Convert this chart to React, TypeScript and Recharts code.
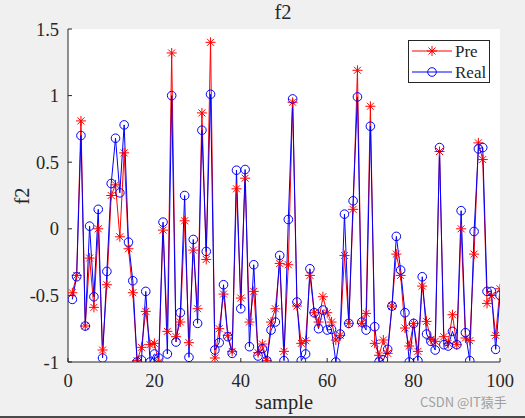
import { LineChart, Line, XAxis, YAxis, CartesianGrid, Legend } from 'recharts';

const SAMPLES = Array.from({ length: 100 }, (_, i) => i + 1);

const PRE = [
  -0.48, -0.35, 0.81, -0.73, -0.22, -0.59, 0.0, -0.91, -0.42, 0.25,
  0.33, -0.06, 0.57, -0.15, -0.48, -0.99, -0.89, -0.62, -0.87, -0.86,
  -1.0, -0.01, -0.77, 1.32, -0.81, -0.7, 0.06, -0.855, -0.16, -0.6,
  0.87, -0.23, 1.4, -0.97, -0.75, -0.49, -0.8, -0.92, 0.3, -0.52,
  0.38, -0.7, -0.47, -0.93, -0.865, -0.99, -0.7, -0.6, -0.26, -0.92,
  -0.27, 0.95, -0.58, -0.86, -0.84, -0.35, -0.63, -0.7, -0.51, -0.63,
  -0.7, -0.835, -0.8, -0.2, -0.71, 0.146, 1.19, -0.71, -0.635, 0.92,
  -0.86, -0.95, -0.835, -0.935, -0.58, -0.19, -0.35, -0.745, -0.88, -0.71,
  -0.92, -0.43, -0.695, -0.83, -0.845, 0.58, -0.81, -0.86, -0.645, -0.87,
  0.0, -0.82, -0.84, -0.19, 0.645, 0.52, -0.56, -0.5, -0.8, -0.45,
];

const REAL = [
  -0.53, -0.36, 0.7, -0.73, 0.02, -0.51, 0.146, -0.97, -0.32, 0.34,
  0.68, 0.27, 0.78, -0.1, -0.39, -1.0, -0.985, -0.47, -1.0, -0.94,
  -0.97, 0.05, -0.94, 1.0, -0.85, -0.63, 0.25, -0.965, -0.08, -0.71,
  0.74, -0.17, 1.01, -0.91, -0.855, -0.42, -0.81, -0.935, 0.44, -0.6,
  0.445, -0.885, -0.27, -0.955, -0.9, -0.99, -0.76, -0.7, -0.2, -0.99,
  0.07, 0.975, -0.55, -0.99, -0.94, -0.3, -0.63, -0.75, -0.61, -0.76,
  -0.755, -1.0, -0.79, 0.11, -0.71, 0.21, 0.99, -0.7, -0.76, 0.77,
  -0.735, -1.0, -0.985, -0.905, -0.58, -0.057, -0.31, -0.63, -1.0, -0.71,
  -0.99, -0.36, -0.79, -0.845, -0.91, 0.61, -0.87, -0.88, -0.77, -0.87,
  0.136, -0.78, -0.99, -0.02, 0.6, 0.61, -0.47, -0.47, -0.905, -0.5,
];

const X_TICKS = [0, 20, 40, 60, 80, 100];
const Y_TICKS = [-1, -0.5, 0, 0.5, 1, 1.5];

const data = SAMPLES.map((x, i) => ({ x, pre: PRE[i], real: REAL[i] }));

const INK = '#262626';
const SERIF = '"Liberation Serif", "Times New Roman", serif';
const tickStyle = { fill: INK, fontSize: 18.5, fontFamily: SERIF };

function Star({ cx, cy }: { cx: number; cy: number }) {
  const r = 5;
  const d = 3.5;
  return (
    <g stroke="#ff0000" strokeWidth={1}>
      <line x1={cx - r} y1={cy} x2={cx + r} y2={cy} />
      <line x1={cx} y1={cy - r} x2={cx} y2={cy + r} />
      <line x1={cx - d} y1={cy - d} x2={cx + d} y2={cy + d} />
      <line x1={cx - d} y1={cy + d} x2={cx + d} y2={cy - d} />
    </g>
  );
}

const starDot = (props: any) => <Star key={`s-${props.index}`} cx={props.cx} cy={props.cy} />;
const circleDot = (props: any) => (
  <circle key={`c-${props.index}`} cx={props.cx} cy={props.cy} r={4.3} fill="none" stroke="#0000ff" strokeWidth={1} />
);

const LegendBox = () => (
  <svg width={82} height={43} style={{ display: 'block' }}>
    <rect x={0.5} y={0.5} width={81} height={42} fill="#fff" stroke={INK} />
    <line x1={4} y1={11} x2={44} y2={11} stroke="#ff0000" />
    <Star cx={24} cy={11} />
    <text x={47} y={17} fontSize={17} fontFamily={SERIF} fill={INK}>Pre</text>
    <line x1={4} y1={32} x2={44} y2={32} stroke="#0000ff" />
    <circle cx={24} cy={32} r={4.3} fill="none" stroke="#0000ff" />
    <text x={47} y={38} fontSize={17} fontFamily={SERIF} fill={INK}>Real</text>
  </svg>
);

export default function App() {
  return (
    <div style={{ position: 'absolute', left: 0, top: 0, width: 525, height: 418, background: '#f0f0f0', overflow: 'hidden' }}>
      <LineChart width={525} height={418} data={data} margin={{ top: 29, right: 25, bottom: 0, left: 0 }}>
        <CartesianGrid horizontal={false} vertical={false} fill="#ffffff" stroke="none" />
        <XAxis
          dataKey="x"
          type="number"
          domain={[0, 100]}
          ticks={X_TICKS}
          height={56}
          tickSize={-4}
          tickMargin={16}
          tick={tickStyle}
          stroke={INK}
          allowDataOverflow
        />
        <XAxis
          xAxisId="top"
          orientation="top"
          dataKey="x"
          type="number"
          domain={[0, 100]}
          ticks={X_TICKS}
          height={0}
          tickSize={-4}
          tickFormatter={() => ''}
          stroke={INK}
          allowDataOverflow
        />
        <YAxis
          type="number"
          domain={[-1, 1.5]}
          ticks={Y_TICKS}
          width={68}
          tickSize={-4}
          tickMargin={13}
          tick={tickStyle}
          stroke={INK}
          allowDataOverflow
        />
        <YAxis
          yAxisId="right"
          orientation="right"
          type="number"
          domain={[-1, 1.5]}
          ticks={Y_TICKS}
          width={0}
          tickSize={-4}
          tickFormatter={() => ''}
          stroke={INK}
          allowDataOverflow
        />
        <Legend
          content={LegendBox}
          verticalAlign="middle"
          align="center"
          wrapperStyle={{ position: 'absolute', left: 408, top: 40, width: 82, height: 43 }}
        />
        <Line dataKey="pre" name="Pre" stroke="#ff0000" strokeWidth={1} dot={starDot} isAnimationActive={false} />
        <Line dataKey="real" name="Real" stroke="#0000ff" strokeWidth={1} dot={circleDot} isAnimationActive={false} />
      </LineChart>
      <svg width={525} height={418} style={{ position: 'absolute', left: 0, top: 0, pointerEvents: 'none' }}>
        <text x={283} y={19} textAnchor="middle" fontSize={20.5} fontFamily={SERIF} fill={INK}>f2</text>
        <text x={29} y={196} transform="rotate(-90 29 196)" textAnchor="middle" fontSize={20.5} fontFamily={SERIF} fill={INK}>f2</text>
        <text x={284} y={409} textAnchor="middle" fontSize={20.5} fontFamily={SERIF} fill={INK}>sample</text>
        <text x={420} y={407} fontSize={13} fontFamily='"Noto Sans CJK SC", sans-serif' fill="#a0a0a0">CSDN @IT猿手</text>
      </svg>
      <div style={{ position: 'absolute', left: 0, top: 416, width: 525, height: 2, background: '#4a4a4a' }} />
    </div>
  );
}
